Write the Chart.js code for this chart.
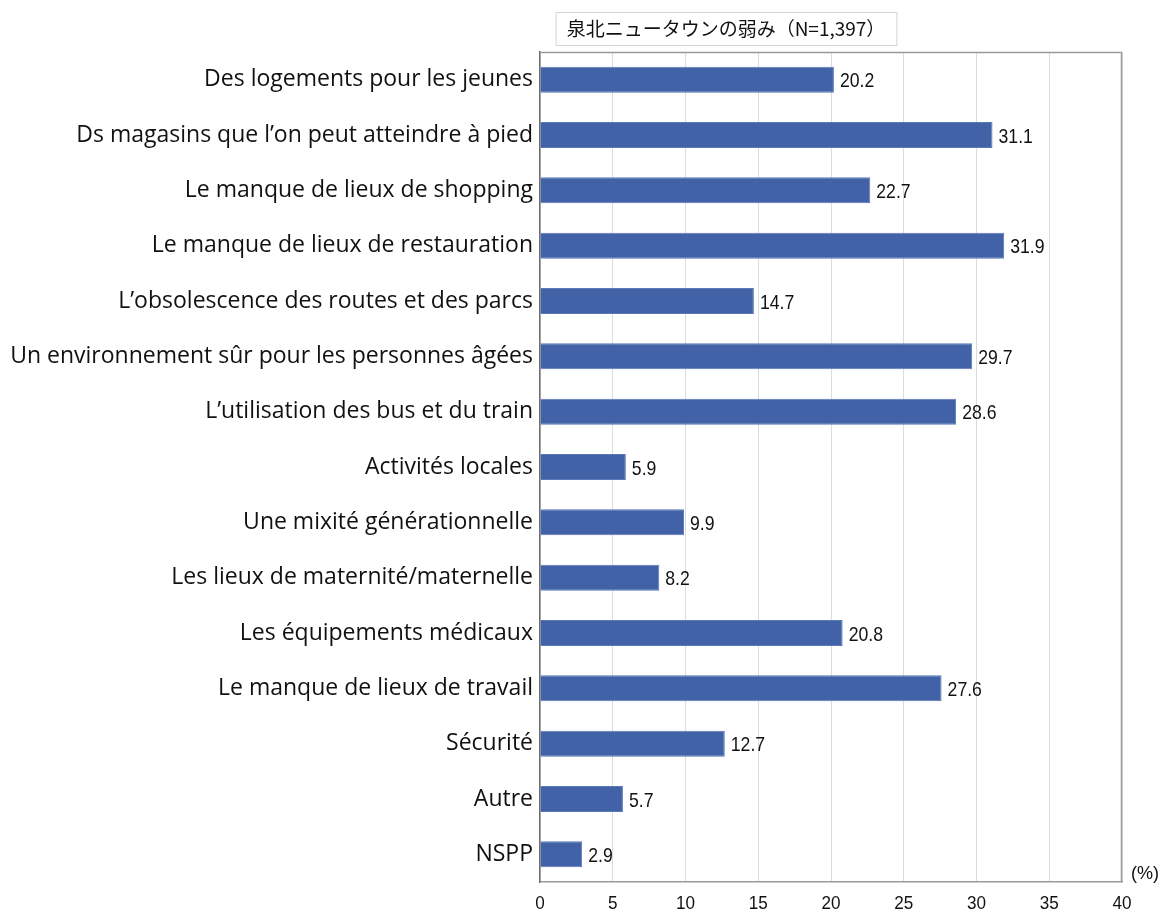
<!DOCTYPE html>
<html lang="fr">
<head>
<meta charset="UTF-8">
<title>泉北ニュータウンの弱み</title>
<script src="https://cdn.jsdelivr.net/npm/chart.js"></script>
<style>
  html, body { margin: 0; padding: 0; background: #ffffff; }
  #wrap { width: 1159px; height: 912px; position: relative; }
</style>
</head>
<body>
<div id="wrap"><canvas id="weakChart" width="1159" height="912"></canvas></div>
<script>
// données
const titre = '泉北ニュータウンの弱み（N=1,397）';
const categories = [
  'Des logements pour les jeunes',
  'Ds magasins que l\u2019on peut atteindre à pied',
  'Le manque de lieux de shopping',
  'Le manque de lieux de restauration',
  'L\u2019obsolescence des routes et des parcs',
  'Un environnement sûr pour les personnes âgées',
  'L\u2019utilisation des bus et du train',
  'Activités locales',
  'Une mixité générationnelle',
  'Les lieux de maternité/maternelle',
  'Les équipements médicaux',
  'Le manque de lieux de travail',
  'Sécurité',
  'Autre',
  'NSPP'
];
const valeurs = [20.2, 31.1, 22.7, 31.9, 14.7, 29.7, 28.6, 5.9, 9.9, 8.2, 20.8, 27.6, 12.7, 5.7, 2.9];
const xTicks = [0, 5, 10, 15, 20, 25, 30, 35, 40];
const unite = '(%)';

const sans = '"Liberation Sans", Arial, sans-serif';

// texte resserré horizontalement (police étroite)
function texteEtroit(ctx, txt, x, y, sx, align) {
  ctx.save();
  ctx.translate(x, y);
  ctx.scale(sx, 1);
  ctx.textAlign = align;
  ctx.fillText(txt, 0, 0);
  ctx.restore();
}

// cadre, titre encadré, graduations, étiquettes de valeurs
const decor = {
  id: 'decor',
  afterDatasetsDraw(chart) {
    const ctx = chart.ctx;
    const meta = chart.getDatasetMeta(0);
    ctx.save();
    ctx.font = '21px ' + sans;
    ctx.fillStyle = '#111';
    ctx.textBaseline = 'middle';
    meta.data.forEach((bar, i) => {
      texteEtroit(ctx, valeurs[i].toFixed(1), bar.x + 6, bar.y + 2, 0.84, 'left');
    });
    ctx.restore();
  },
  afterDraw(chart) {
    const ctx = chart.ctx;
    const a = chart.chartArea;
    const xs = chart.scales.x;
    ctx.save();
    // bordure de la zone de tracé
    ctx.strokeStyle = '#9a9a9a';
    ctx.lineWidth = 1.5;
    ctx.beginPath();
    ctx.moveTo(a.left, a.top + 0.5);
    ctx.lineTo(a.right - 0.5, a.top + 0.5);
    ctx.lineTo(a.right - 0.5, a.bottom);
    ctx.stroke();
    // graduations de l'axe des x
    ctx.fillStyle = '#111';
    ctx.font = '19px ' + sans;
    ctx.textBaseline = 'middle';
    xTicks.forEach(v => {
      texteEtroit(ctx, String(v), xs.getPixelForValue(v), a.bottom + 22, 0.9, 'center');
    });
    // unité
    texteEtroit(ctx, unite, a.right + 9, a.bottom - 8, 0.95, 'left');
    // titre dans un cadre
    ctx.font = '19px "Noto Sans CJK JP", sans-serif';
    const w = ctx.measureText(titre).width;
    const cx = 726, cy = 29;
    ctx.fillStyle = '#ffffff';
    ctx.fillRect(cx - w / 2 - 11, 12, w + 22, 33);
    ctx.strokeStyle = '#d4d4d4';
    ctx.lineWidth = 1;
    ctx.strokeRect(cx - w / 2 - 11 + 0.5, 12.5, w + 22, 33);
    ctx.fillStyle = '#111';
    ctx.textAlign = 'center';
    ctx.fillText(titre, cx, cy);
    ctx.restore();
  }
};

new Chart(document.getElementById('weakChart'), {
  type: 'bar',
  data: {
    labels: categories,
    datasets: [{
      data: valeurs,
      backgroundColor: '#4262a8',
      borderColor: '#5a78b8',
      borderWidth: 1,
      categoryPercentage: 1,
      barPercentage: 0.47
    }]
  },
  options: {
    indexAxis: 'y',
    responsive: false,
    animation: false,
    layout: { padding: { top: 52, right: 37, left: 0, bottom: 0 } },
    plugins: {
      legend: { display: false },
      tooltip: { enabled: false }
    },
    scales: {
      x: {
        min: 0,
        max: 40,
        afterBuildTicks(scale) {
          scale.ticks = xTicks.map(v => ({ value: v }));
        },
        afterFit(scale) { scale.height = 30; },
        grid: { color: '#dcdcdc', lineWidth: 1, drawTicks: false },
        border: { display: true, color: '#9a9a9a', width: 1.5 },
        ticks: { display: false }
      },
      y: {
        afterFit(scale) { scale.width = 540; },
        grid: { display: false, drawTicks: false },
        border: { display: true, color: '#6e6e6e', width: 1.5 },
        ticks: {
          padding: 7,
          color: '#111',
          font: { family: '"Open Sans", "Noto Sans", sans-serif', size: 23 }
        }
      }
    }
  },
  plugins: [decor]
});
</script>
</body>
</html>
